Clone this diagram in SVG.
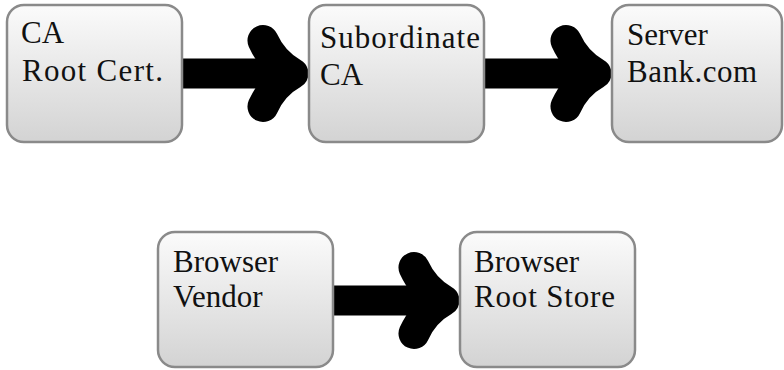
<svg xmlns="http://www.w3.org/2000/svg" width="784" height="370" viewBox="0 0 784 370">
<defs>
<linearGradient id="g" x1="0" y1="0" x2="0" y2="1">
<stop offset="0" stop-color="#fbfbfb"/>
<stop offset="1" stop-color="#d3d3d3"/>
</linearGradient>
<g id="arrow">
<rect x="0" y="-15" width="110" height="30" fill="#000"/>
<path d="M81,-33 Q91,-11 111,0 Q91,11 81,33" fill="none" stroke="#000" stroke-width="31" stroke-linecap="round" stroke-linejoin="round"/>
</g>
</defs>
<style>
.box{fill:url(#g);stroke:#8a8a8a;stroke-width:2.5}
.t{font-family:"Liberation Serif","Times New Roman",serif;font-size:31px;fill:#111}
</style>
<rect width="784" height="370" fill="#fff"/>
<g id="connectors">
<use href="#arrow" x="182" y="73.5"/>
<use href="#arrow" x="485" y="73.5"/>
<use href="#arrow" x="333" y="300.5"/>
</g>
<g id="ca-root">
<rect class="box" x="7" y="5" width="175" height="137" rx="17"/>
<text class="t" x="21" y="43">CA</text>
<text class="t" x="22" y="81" textLength="141" lengthAdjust="spacing">Root Cert.</text>
</g>
<g id="subordinate-ca">
<rect class="box" x="309" y="5" width="175" height="137" rx="17"/>
<text class="t" x="320" y="48" textLength="160" lengthAdjust="spacing">Subordinate</text>
<text class="t" x="320" y="85">CA</text>
</g>
<g id="server">
<rect class="box" x="612" y="5" width="170" height="137" rx="17"/>
<text class="t" x="627" y="45">Server</text>
<text class="t" x="627" y="82" textLength="130" lengthAdjust="spacing">Bank.com</text>
</g>
<g id="browser-vendor">
<rect class="box" x="158" y="232" width="175" height="135" rx="17"/>
<text class="t" x="173" y="272">Browser</text>
<text class="t" x="173" y="307">Vendor</text>
</g>
<g id="browser-root-store">
<rect class="box" x="460" y="232" width="175" height="135" rx="17"/>
<text class="t" x="474" y="272">Browser</text>
<text class="t" x="474" y="307" textLength="141" lengthAdjust="spacing">Root Store</text>
</g>
</svg>
